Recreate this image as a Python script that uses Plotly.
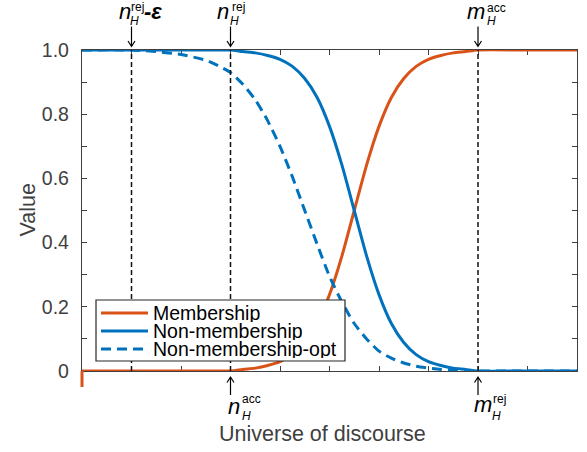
import plotly.graph_objects as go

# Sample points on the universe of discourse
x_pts = [0, 1, 1.5, 2, 2.5, 2.75, 3, 3.25, 3.5, 3.75, 4, 4.25, 4.5, 4.75, 5,
         5.25, 5.5, 5.75, 6, 6.25, 6.5, 6.75, 7, 7.25, 7.5, 7.75, 8, 9, 10]

membership = [0, 0, 0, 0, 0, 0, 0, 0.005, 0.009, 0.017, 0.029, 0.051, 0.089, 0.148, 0.238,
              0.358, 0.5, 0.642, 0.762, 0.852, 0.911, 0.949, 0.971, 0.983, 0.991, 0.995, 1, 1, 1]

non_membership = [1, 1, 1, 1, 1, 1, 1, 0.995, 0.991, 0.983, 0.971, 0.949, 0.911, 0.852, 0.762,
                  0.642, 0.5, 0.358, 0.238, 0.148, 0.089, 0.051, 0.029, 0.017, 0.009, 0.005, 0, 0, 0]

non_membership_opt = [1, 1, 0.995, 0.986, 0.968, 0.951, 0.93, 0.893, 0.845, 0.78, 0.70, 0.605, 0.50, 0.395, 0.295,
                      0.215, 0.148, 0.100, 0.062, 0.040, 0.025, 0.015, 0.009, 0.005, 0.003, 0.001, 0, 0, 0]

series_names = ["Membership", "Non-membership", "Non-membership-opt"]

# Threshold positions (dashed guides) and their labels
threshold_x = [1, 3, 8]
top_marks = [1, 3, 8]          # n_H^rej - eps, n_H^rej, m_H^acc
bottom_marks = [3, 8]          # n_H^acc, m_H^rej

y_tickvals = [0, 0.1, 0.2, 0.3, 0.4, 0.5, 0.6, 0.7, 0.8, 0.9, 1.0]
y_ticktext = ["0", "", "0.2", "", "0.4", "", "0.6", "", "0.8", "", "1.0"]
x_tickvals = [0, 1, 2, 3, 4, 5, 6, 7, 8, 9, 10]

ORANGE = "#D95319"
BLUE = "#0072BD"
AXIS = "#404040"
FONT = "Liberation Sans, Arial, sans-serif"

series_styles = [
    dict(color=ORANGE, width=3),
    dict(color=BLUE, width=3),
    dict(color=BLUE, width=3, dash="10px,6px"),
]
series_values = [membership, non_membership, non_membership_opt]

fig = go.Figure()

for name, vals, style in zip(series_names, series_values, series_styles):
    fig.add_trace(go.Scatter(x=x_pts, y=vals, name=name, mode="lines", showlegend=False,
                             line=dict(shape="spline", smoothing=0.6, **style)))

for xv in threshold_x:
    fig.add_trace(go.Scatter(x=[xv, xv], y=[0, 1], mode="lines", showlegend=False,
                             hoverinfo="skip",
                             line=dict(color="#111111", width=1.5, dash="5px,3px")))

# lead-in of the membership curve dropping below the axis at the left edge
fig.add_shape(type="line", xref="paper", x0=0, x1=0, yref="paper", ysizemode="pixel",
              yanchor=0, y0=0, y1=-16, line=dict(color=ORANGE, width=3))

annotations = []


def piece(x, yref_val, text, size, dx, dy, italic=False, bold=False):
    t = text
    if bold:
        t = "<b>" + t + "</b>"
    if italic:
        t = "<i>" + t + "</i>"
    annotations.append(dict(x=x, xref="x", y=yref_val, yref="paper", text=t, showarrow=False,
                            xanchor="center", yanchor="middle", xshift=dx, yshift=dy,
                            font=dict(family=FONT, size=size, color="#000000")))


def arrow(x, top):
    if top:
        path = "M0,23.5 L0,3.5 M-3.5,9 L0,3.5 L3.5,9"
        anchor = 1
    else:
        path = "M0,-24 L0,-6 M-3.5,-11.5 L0,-6 L3.5,-11.5"
        anchor = 0
    fig.add_shape(type="path", xref="x", xsizemode="pixel", xanchor=x,
                  yref="paper", ysizemode="pixel", yanchor=anchor, path=path,
                  line=dict(color="#000000", width=1.2))


# top labels
TOP = -2.5  # keep the label boxes inside the page
x_a, x_b, x_c = top_marks
arrow(x_a, True)
piece(x_a, 1, "n", 22, -7, 40.8 + TOP, italic=True)
piece(x_a, 1, "rej", 12, 6, 46.5 + TOP - 1)
piece(x_a, 1, "H", 12, 2.7, 31.5 + TOP, italic=True)
piece(x_a, 1, "-ε", 22, 21, 40.8 + TOP, italic=True, bold=True)

arrow(x_b, True)
piece(x_b, 1, "n", 22, -7.5, 40.8 + TOP, italic=True)
piece(x_b, 1, "rej", 12, 8.3, 46.5 + TOP - 1)
piece(x_b, 1, "H", 12, 4, 31.5 + TOP, italic=True)

arrow(x_c, True)
piece(x_c, 1, "m", 22, -2, 41 + TOP, italic=True)
piece(x_c, 1, "acc", 12, 18.7, 44.5 + TOP)
piece(x_c, 1, "H", 12, 13, 31.5 + TOP, italic=True)

# bottom labels
x_d, x_e = bottom_marks
arrow(x_d, False)
piece(x_d, 0, "n", 22, 3, -35, italic=True)
piece(x_d, 0, "acc", 12, 21, -28.3)
piece(x_d, 0, "H", 12, 15.5, -45, italic=True)

arrow(x_e, False)
piece(x_e, 0, "m", 22, 5, -33.4, italic=True)
piece(x_e, 0, "rej", 12, 21.7, -28)
piece(x_e, 0, "H", 12, 18.7, -45, italic=True)

# axis titles
annotations.append(dict(x=0, xref="paper", y=0.5, yref="paper", text="Value", textangle=-90,
                        showarrow=False, xanchor="center", yanchor="middle", xshift=-55,
                        font=dict(family=FONT, size=21.5, color=AXIS)))
annotations.append(dict(x=0.5, xref="paper", y=0, yref="paper", text="Universe of discourse",
                        showarrow=False, xanchor="center", yanchor="middle", xshift=-7.5, yshift=-63,
                        font=dict(family=FONT, size=21.5, color=AXIS)))

# legend box in the lower-left corner of the axes (pixel offsets from the axes corner)
LEG_L, LEG_R, LEG_T, LEG_B = 14, 263, 71, 10
fig.add_shape(type="rect", xref="paper", xsizemode="pixel", xanchor=0,
              yref="paper", ysizemode="pixel", yanchor=0,
              x0=LEG_L, x1=LEG_R, y0=LEG_B, y1=LEG_T, layer="above",
              fillcolor="white", line=dict(color="#262626", width=1.2))
row_offsets = [58, 40, 22]
for name, style, ry in zip(series_names, series_styles, row_offsets):
    fig.add_shape(type="line", xref="paper", xsizemode="pixel", xanchor=0,
                  yref="paper", ysizemode="pixel", yanchor=0,
                  x0=19, x1=66, y0=ry, y1=ry, layer="above", line=style)
    annotations.append(dict(x=0, xref="paper", y=0, yref="paper", text=name, showarrow=False,
                            xanchor="left", yanchor="middle", xshift=69, yshift=ry,
                            height=18, valign="middle",
                            font=dict(family=FONT, size=19.5, color="#000000")))

axis_common = dict(showgrid=False, zeroline=False, showline=True, linecolor=AXIS, linewidth=1.3,
                   ticks="inside", ticklen=5, tickwidth=1.3, tickcolor=AXIS, mirror="ticks",
                   layer="below traces")

fig.update_layout(
    width=587, height=452,
    margin=dict(l=82, r=10, t=50, b=81),
    paper_bgcolor="white", plot_bgcolor="white",
    font=dict(family=FONT, size=19.5, color=AXIS),
    showlegend=False,
    xaxis=dict(range=[0, 10], tickvals=x_tickvals, showticklabels=False, **axis_common),
    yaxis=dict(range=[0, 1], tickvals=y_tickvals, ticktext=y_ticktext,
               tickfont=dict(family=FONT, size=19.5, color=AXIS), ticklabelstandoff=8,
               **axis_common),
    annotations=annotations,
)

fig.write_html("out.html")
